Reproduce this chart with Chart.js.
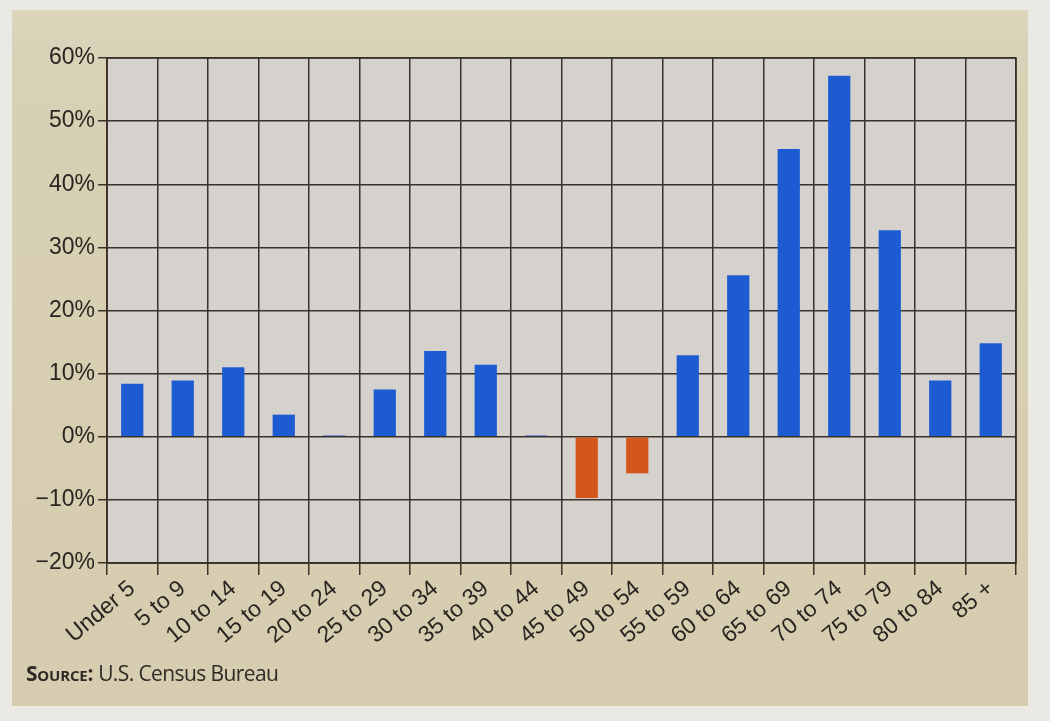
<!DOCTYPE html>
<html>
<head>
<meta charset="utf-8">
<script src="https://cdn.jsdelivr.net/npm/chart.js@4.4.1/dist/chart.umd.min.js"></script>
<style>
  html, body { margin: 0; padding: 0; }
  body { width: 1050px; height: 721px; background: #ebe9e4; position: relative; overflow: hidden; }
  #panel { position: absolute; left: 12px; top: 10px; width: 1016px; height: 696px;
           background: linear-gradient(180deg, #dcd4bb 0%, #d8d0b4 15%, #d6cdb0 100%); }
  #wrap { position: absolute; left: 0; top: 0; width: 1050px; height: 721px; }
  #source { position: absolute; left: 26px; top: 659px; font-family: "Open Sans", "Noto Sans", sans-serif;
            font-size: 21px; color: #2e2a26; letter-spacing: -0.6px; }
  #source b { font-variant: small-caps; font-weight: 700; letter-spacing: -0.2px; }
</style>
</head>
<body>
<div id="panel"></div>
<div id="wrap"><canvas id="chart" width="1050" height="721"></canvas></div>
<div id="source"><b>Source:</b> U.S. Census Bureau</div>
<script>
// Percent change in population by age group
const ageGroups = ["Under 5", "5 to 9", "10 to 14", "15 to 19", "20 to 24", "25 to 29",
                   "30 to 34", "35 to 39", "40 to 44", "45 to 49", "50 to 54", "55 to 59",
                   "60 to 64", "65 to 69", "70 to 74", "75 to 79", "80 to 84", "85 +"];
const pctChange = [8.4, 8.9, 11.0, 3.5, 0.2, 7.5, 13.6, 11.4, 0.2, -9.7, -5.8, 12.9,
                   25.6, 45.6, 57.2, 32.7, 8.9, 14.8];
const yTicks = [-20, -10, 0, 10, 20, 30, 40, 50, 60];

const growthBlue = "#1c5bd2";
const declineOrange = "#d4561c";
const gridInk = "#3a312a";

const plotBackground = {
  id: "plotBackground",
  beforeDraw(chart) {
    const { ctx, chartArea: a } = chart;
    ctx.save();
    ctx.fillStyle = "#d5d1cd";
    ctx.fillRect(a.left, a.top, a.right - a.left, a.bottom - a.top);
    ctx.restore();
  }
};

new Chart(document.getElementById("chart"), {
  type: "bar",
  data: {
    labels: ageGroups,
    datasets: [{
      data: pctChange,
      backgroundColor: pctChange.map(v => v < 0 ? declineOrange : growthBlue),
      barPercentage: 0.44,
      categoryPercentage: 1.0
    }]
  },
  options: {
    responsive: false,
    animation: false,
    layout: { padding: { left: 0, top: 58, right: 34, bottom: 0 } },
    plugins: { legend: { display: false }, tooltip: { enabled: false } },
    scales: {
      y: {
        min: -20, max: 60,
        afterBuildTicks(scale) { scale.ticks = yTicks.map(v => ({ value: v })); },
        afterFit(scale) { scale.width = 107; },
        border: { display: true, color: gridInk, width: 1.5 },
        grid: { color: gridInk, lineWidth: 1.5, tickLength: 9, drawTicks: true },
        ticks: {
          color: "#2b2521",
          padding: 3,
          font: { family: "'Liberation Sans', Arial, sans-serif", size: 23 },
          callback: v => (v < 0 ? "\u2212" + Math.abs(v) : v) + "%"
        }
      },
      x: {
        afterFit(scale) { scale.height = 158; },
        border: { display: true, color: gridInk, width: 1.5 },
        grid: { color: gridInk, lineWidth: 1.5, offset: true, tickLength: 12 },
        ticks: {
          color: "#2b2521",
          minRotation: 40, maxRotation: 40,
          padding: 0,
          autoSkip: false,
          font: { family: "'Liberation Sans', Arial, sans-serif", size: 23 }
        }
      }
    }
  },
  plugins: [plotBackground, {
    id: "frame",
    afterDraw(chart) {
      const { ctx, chartArea: a } = chart;
      ctx.save();
      ctx.strokeStyle = gridInk;
      ctx.lineWidth = 1.5;
      ctx.strokeRect(a.left, a.top, a.right - a.left, a.bottom - a.top);
      ctx.restore();
    }
  }]
});
</script>
</body>
</html>
